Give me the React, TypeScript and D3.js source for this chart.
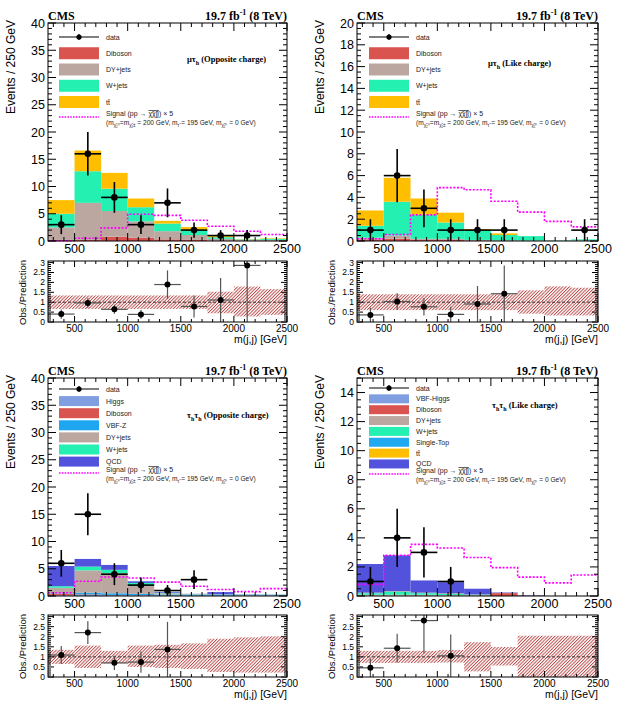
import React from 'react';
import * as d3 from 'd3';

// ---------- data ----------
const EDGES = [250, 500, 750, 1000, 1250, 1500, 1750, 2000, 2250, 2500];

// mu-tau_h opposite charge
const P1_DIBOSON = [0.2, 0.2, 0.8, 0.6, 0.3, 0.2, 0.1, 0.05, 0.05];
const P1_DY = [2.3, 6.8, 4.7, 3.0, 1.5, 0.9, 0.3, 0.15, 0.15];
const P1_WJETS = [2.5, 5.8, 4.1, 2.6, 1.4, 0.95, 0.3, 0.1, 0.2];
const P1_TTBAR = [2.5, 3.8, 2.9, 1.6, 0.5, 0.5, 0.2, 0.05, 0.1];
const P1_SIGNAL = [0.05, 0.5, 2.4, 4.9, 4.7, 3.8, 2.7, 1.8, 1.2];
const P1_DATA = [3, 16, 8, 3, 7, 2, 1, 1, 0];
const P1_BAND_LO = [0.66, 0.66, 0.66, 0.66, 0.66, 0.66, 0.44, 0.28, 0.36];
const P1_BAND_HI = [1.34, 1.34, 1.34, 1.34, 1.34, 1.34, 1.53, 1.79, 1.66];

// mu-tau_h like charge
const P2_DIBOSON = [0.15, 0.2, 0.1, 0.1, 0.05, 0.03, 0.02, 0.01, 0.02];
const P2_DY = [0.15, 0.3, 0.1, 0.1, 0.05, 0.02, 0.02, 0.01, 0.03];
const P2_WJETS = [1.1, 3.1, 2.2, 1.5, 0.9, 0.5, 0.41, 0.03, 0.1];
const P2_TTBAR = [1.4, 2.2, 1.5, 0.9, 0.1, 0.15, 0, 0, 0];
const P2_SIGNAL = [0.2, 0.6, 2.4, 4.9, 4.7, 3.65, 2.65, 1.8, 1.3];
const P2_DATA = [1, 6, 3, 1, 1, 1, 0, 0, 1];
const P2_BAND_LO = [0.6, 0.6, 0.6, 0.6, 0.6, 0.6, 0.42, 0.33, 0.33];
const P2_BAND_HI = [1.4, 1.4, 1.4, 1.4, 1.4, 1.4, 1.6, 1.8, 1.73];

// tau_h tau_h opposite charge
const P3_HIGGS = [0.1, 0.2, 0.15, 0.1, 0.05, 0.05, 0.03, 0.02, 0.02];
const P3_DIBOSON = [0.3, 0.1, 0.05, 0.05, 0.03, 0.02, 0.02, 0.02, 0.02];
const P3_VBFZ = [0.1, 0.3, 0.3, 0.25, 0.2, 0.15, 0.15, 0.1, 0.1];
const P3_DY = [1.0, 4.1, 3.7, 1.55, 0.22, 0.08, 0.05, 0.06, 0.06];
const P3_WJETS = [0.3, 0.7, 0.6, 0.45, 0.1, 0.05, 0.05, 0.05, 0.05];
const P3_QCD = [3.7, 1.4, 0.9, 0.3, 0.13, 0.05, 0.42, 0.05, 0.03];
const P3_SIGNAL = [0.6, 2.7, 3.5, 3.3, 2.55, 1.8, 1.2, 0.8, 1.35];
const P3_DATA = [6, 15, 4, 2, 1, 3, 0, 0, 0];
const P3_BAND_LO = [0.65, 0.45, 0.67, 0.5, 0.45, 0.4, 0.25, 0.22, 0.22];
const P3_BAND_HI = [1.35, 1.56, 1.3, 1.56, 1.6, 1.67, 1.9, 1.97, 2.02];

// tau_h tau_h like charge
const P4_VBFHIGGS = [0.02, 0.02, 0.02, 0.01, 0.01, 0, 0, 0, 0];
const P4_DIBOSON = [0.02, 0.02, 0.02, 0.02, 0.02, 0.2, 0.02, 0, 0];
const P4_DY = [0.05, 0.05, 0.05, 0.03, 0.02, 0.02, 0, 0, 0];
const P4_WJETS = [0.1, 0.2, 0.1, 0.08, 0.04, 0, 0, 0, 0];
const P4_SINGLETOP = [0.02, 0.02, 0.02, 0.02, 0.01, 0, 0, 0, 0];
const P4_TTBAR = [0.02, 0.02, 0.02, 0.02, 0.01, 0, 0, 0, 0];
const P4_QCD = [1.97, 2.47, 0.84, 0.77, 0.39, 0.03, 0.03, 0, 0];
const P4_SIGNAL = [0.8, 2.8, 3.55, 3.3, 2.65, 1.95, 1.3, 0.9, 1.45];
const P4_DATA = [1, 4, 3, 1, 0, 0, 0, 0, 0];
const P4_BAND_LO = [0.7, 0.7, 0.7, 0.72, 0.28, 0.57, 0, 0, 0];
const P4_BAND_HI = [1.3, 1.3, 1.3, 1.34, 1.73, 1.49, 2.05, 2.05, 2.05];

const X_TICKS = [500, 1000, 1500, 2000, 2500];
const RATIO_TICKS = [0, 0.5, 1, 1.5, 2, 2.5, 3];

// ---------- style ----------
const COL = {
  higgs: '#7f9fe0',
  diboson: '#d9534f',
  vbfz: '#1ea6f0',
  dy: '#bba6a0',
  wjets: '#24f0b2',
  singletop: '#22aaf0',
  ttbar: '#ffbf00',
  qcd: '#5252dc',
  signal: '#ff00ff',
  hatch: '#b5403f',
};
const SANS = "'Liberation Sans', Arial, Helvetica, sans-serif";
const SERIF = "'Liberation Serif', 'Times New Roman', serif";

type Bkg = { name: string; label: string; color: string; values: number[] };
type PanelCfg = {
  l: number; r: number; t: number; b: number; rt: number; rb: number;
  ymax: number; yMajor: number; yMinor: number;
  bkg: Bkg[]; signal: number[]; data: number[]; bandLo: number[]; bandHi: number[];
  chan: 'mu' | 'tau'; charge: string; chanX: number; chanY: number;
  legX: number; legY0: number; legDy: number; boxH: number; sigY: number;
};

const PANELS: PanelCfg[] = [
  {
    l: 48, r: 287, t: 23, b: 241, rt: 261, rb: 322, ymax: 40, yMajor: 5, yMinor: 1,
    bkg: [
      { name: 'diboson', label: 'Diboson', color: COL.diboson, values: P1_DIBOSON },
      { name: 'dy', label: 'DY+jets', color: COL.dy, values: P1_DY },
      { name: 'wjets', label: 'W+jets', color: COL.wjets, values: P1_WJETS },
      { name: 'ttbar', label: 'tt\u0304', color: COL.ttbar, values: P1_TTBAR },
    ],
    signal: P1_SIGNAL, data: P1_DATA, bandLo: P1_BAND_LO, bandHi: P1_BAND_HI,
    chan: 'mu', charge: '(Opposite charge)', chanX: 187, chanY: 62,
    legX: 59, legY0: 37, legDy: 16.25, boxH: 12, sigY: 116,
  },
  {
    l: 357, r: 598, t: 23, b: 241, rt: 261, rb: 322, ymax: 20, yMajor: 2, yMinor: 0.5,
    bkg: [
      { name: 'diboson', label: 'Diboson', color: COL.diboson, values: P2_DIBOSON },
      { name: 'dy', label: 'DY+jets', color: COL.dy, values: P2_DY },
      { name: 'wjets', label: 'W+jets', color: COL.wjets, values: P2_WJETS },
      { name: 'ttbar', label: 'tt\u0304', color: COL.ttbar, values: P2_TTBAR },
    ],
    signal: P2_SIGNAL, data: P2_DATA, bandLo: P2_BAND_LO, bandHi: P2_BAND_HI,
    chan: 'mu', charge: '(Like charge)', chanX: 488, chanY: 66,
    legX: 369, legY0: 37, legDy: 16.25, boxH: 12, sigY: 116,
  },
  {
    l: 48, r: 287, t: 378, b: 596, rt: 615, rb: 677, ymax: 40, yMajor: 5, yMinor: 1,
    bkg: [
      { name: 'higgs', label: 'Higgs', color: COL.higgs, values: P3_HIGGS },
      { name: 'diboson', label: 'Diboson', color: COL.diboson, values: P3_DIBOSON },
      { name: 'vbfz', label: 'VBF-Z', color: COL.vbfz, values: P3_VBFZ },
      { name: 'dy', label: 'DY+jets', color: COL.dy, values: P3_DY },
      { name: 'wjets', label: 'W+jets', color: COL.wjets, values: P3_WJETS },
      { name: 'qcd', label: 'QCD', color: COL.qcd, values: P3_QCD },
    ],
    signal: P3_SIGNAL, data: P3_DATA, bandLo: P3_BAND_LO, bandHi: P3_BAND_HI,
    chan: 'tau', charge: '(Opposite charge)', chanX: 187, chanY: 418,
    legX: 59, legY0: 389, legDy: 12.1, boxH: 10, sigY: 472,
  },
  {
    l: 357, r: 598, t: 378, b: 596, rt: 615, rb: 677, ymax: 15, yMajor: 2, yMinor: 0.5,
    bkg: [
      { name: 'vbfh', label: 'VBF-Higgs', color: COL.higgs, values: P4_VBFHIGGS },
      { name: 'diboson', label: 'Diboson', color: COL.diboson, values: P4_DIBOSON },
      { name: 'dy', label: 'DY+jets', color: COL.dy, values: P4_DY },
      { name: 'wjets', label: 'W+jets', color: COL.wjets, values: P4_WJETS },
      { name: 'singletop', label: 'Single-Top', color: COL.singletop, values: P4_SINGLETOP },
      { name: 'ttbar', label: 'tt\u0304', color: COL.ttbar, values: P4_TTBAR },
      { name: 'qcd', label: 'QCD', color: COL.qcd, values: P4_QCD },
    ],
    signal: P4_SIGNAL, data: P4_DATA, bandLo: P4_BAND_LO, bandHi: P4_BAND_HI,
    chan: 'tau', charge: '(Like charge)', chanX: 492, chanY: 408,
    legX: 369, legY0: 388, legDy: 10.85, boxH: 9, sigY: 473,
  },
];

function range(a: number, b: number, step: number) {
  const out: number[] = [];
  for (let v = a; v <= b + 1e-9; v += step) out.push(Math.round(v * 1000) / 1000);
  return out;
}

function Panel({ p, idx }: { p: PanelCfg; idx: number }) {
  const nb = EDGES.length - 1;
  const x = d3.scaleLinear().domain([EDGES[0], EDGES[nb]]).range([p.l, p.r]);
  const y = d3.scaleLinear().domain([0, p.ymax]).range([p.b, p.t]);
  const yr = d3.scaleLinear().domain([0, 3.08]).range([p.rb, p.rt]);

  const rows = d3.range(nb).map((i) => {
    const o: Record<string, number> = {};
    p.bkg.forEach((s) => (o[s.name] = s.values[i]));
    return o;
  });
  const stack = d3.stack<Record<string, number>>().keys(p.bkg.map((s) => s.name))(rows);
  const total = d3.range(nb).map((i) => d3.sum(p.bkg, (s) => s.values[i]));

  const sigPts: [number, number][] = EDGES.map((e, i) => [e, p.signal[Math.min(i, nb - 1)]]);
  const sigLine = d3.line<[number, number]>().x((d) => x(d[0])).y((d) => y(d[1])).curve(d3.curveStepAfter);

  const yMaj = range(0, p.ymax, p.yMajor);
  const yMin = range(0, p.ymax, p.yMinor).filter((v) => !yMaj.some((m) => Math.abs(m - v) < 1e-6));
  const xMin = range(300, 2500, 100).filter((v) => v % 500 !== 0);
  const rMin = range(0, 3.05, 0.1).filter((v) => !RATIO_TICKS.some((m) => Math.abs(m - v) < 1e-6));

  const clipId = `rclip${idx}`;
  const binC = (i: number) => (EDGES[i] + EDGES[i + 1]) / 2;

  const chanText =
    p.chan === 'mu' ? (
      <>
        {'μτ'}
        <tspan dy={2.5} fontSize={6}>h</tspan>
        <tspan dy={-2.5}>{' ' + p.charge}</tspan>
      </>
    ) : (
      <>
        {'τ'}
        <tspan dy={2.5} fontSize={6}>h</tspan>
        <tspan dy={-2.5}>τ</tspan>
        <tspan dy={2.5} fontSize={6}>h</tspan>
        <tspan dy={-2.5}>{' ' + p.charge}</tspan>
      </>
    );

  const lx = p.legX;
  const tx = lx + 47;

  return (
    <g>
      <defs>
        <clipPath id={clipId}>
          <rect x={p.l} y={p.rt} width={p.r - p.l} height={p.rb - p.rt} />
        </clipPath>
      </defs>

      {/* ---------- main plot ---------- */}
      {stack.map((layer, k) => (
        <g key={k}>
          {layer.map((d, i) =>
            d[1] - d[0] > 0 ? (
              <rect key={i} x={x(EDGES[i])} y={y(d[1])} width={x(EDGES[i + 1]) - x(EDGES[i])}
                height={y(d[0]) - y(d[1])} fill={p.bkg[k].color} />
            ) : null
          )}
        </g>
      ))}
      <path d={sigLine(sigPts) || ''} fill="none" stroke={COL.signal} strokeWidth={1.6} strokeDasharray="2,1.6" />
      {p.data.map((v, i) =>
        v > 0 ? (
          <g key={i} stroke="#000" strokeWidth={1.6}>
            <line x1={x(EDGES[i])} x2={x(EDGES[i + 1])} y1={y(v)} y2={y(v)} />
            <line x1={x(binC(i))} x2={x(binC(i))} y1={y(v - Math.sqrt(v))} y2={y(v + Math.sqrt(v))} />
            <circle cx={x(binC(i))} cy={y(v)} r={3.3} fill="#000" stroke="none" />
          </g>
        ) : null
      )}

      {/* frame & ticks */}
      <rect x={p.l} y={p.t} width={p.r - p.l} height={p.b - p.t} fill="none" stroke="#000" strokeWidth={1} />
      <g stroke="#000" strokeWidth={1}>
        {yMaj.map((v) => (
          <g key={'ym' + v}>
            <line x1={p.l} x2={p.l + 8} y1={y(v)} y2={y(v)} />
            <line x1={p.r} x2={p.r - 8} y1={y(v)} y2={y(v)} />
          </g>
        ))}
        {yMin.map((v) => (
          <g key={'yn' + v}>
            <line x1={p.l} x2={p.l + 4} y1={y(v)} y2={y(v)} />
            <line x1={p.r} x2={p.r - 4} y1={y(v)} y2={y(v)} />
          </g>
        ))}
        {X_TICKS.map((v) => (
          <g key={'xm' + v}>
            <line x1={x(v)} x2={x(v)} y1={p.b} y2={p.b - 8} />
            <line x1={x(v)} x2={x(v)} y1={p.t} y2={p.t + 8} />
          </g>
        ))}
        {xMin.map((v) => (
          <g key={'xn' + v}>
            <line x1={x(v)} x2={x(v)} y1={p.b} y2={p.b - 4} />
            <line x1={x(v)} x2={x(v)} y1={p.t} y2={p.t + 4} />
          </g>
        ))}
      </g>
      <g fontFamily={SANS} fontSize={12.5} fill="#000">
        {yMaj.map((v) => (
          <text key={v} x={p.l - 3} y={y(v) + 4.5} textAnchor="end">{v}</text>
        ))}
        {X_TICKS.map((v) => (
          <text key={v} x={x(v)} y={p.b + 11.5} textAnchor="middle">{v}</text>
        ))}
      </g>
      <text transform={`translate(${p.l - 33},${p.t - 3}) rotate(-90)`} textAnchor="end"
        fontFamily={SANS} fontSize={12} fill="#000">Events / 250 GeV</text>

      {/* header */}
      <text x={p.l} y={p.t - 3} fontFamily={SERIF} fontWeight="bold" fontSize={12}>CMS</text>
      <text x={p.r} y={p.t - 3} fontFamily={SERIF} fontWeight="bold" fontSize={12} textAnchor="end">
        19.7 fb<tspan dy={-5} fontSize={8}>-1</tspan><tspan dy={5}> (8 TeV)</tspan>
      </text>
      <text x={p.chanX} y={p.chanY} fontFamily={SERIF} fontWeight="bold" fontSize={8.5}>{chanText}</text>

      {/* legend */}
      <g fontFamily={SANS} fontSize={7} fill="#222">
        <g stroke="#000" strokeWidth={1.2}>
          <line x1={lx} x2={lx + 40} y1={p.legY0} y2={p.legY0} />
          <line x1={lx + 20} x2={lx + 20} y1={p.legY0 - 3} y2={p.legY0 + 3} />
          <circle cx={lx + 20} cy={p.legY0} r={2.6} fill="#000" stroke="none" />
        </g>
        <text x={tx} y={p.legY0 + 2.5}>data</text>
        {p.bkg.map((s, k) => {
          const cy = p.legY0 + p.legDy * (k + 1);
          return (
            <g key={s.name}>
              <rect x={lx} y={cy - p.boxH / 2} width={40} height={p.boxH} fill={s.color} />
              <text x={tx} y={cy + 2.5}>{s.label}</text>
            </g>
          );
        })}
        <line x1={lx} x2={lx + 40} y1={p.sigY + 1} y2={p.sigY + 1} stroke={COL.signal} strokeWidth={1.3} strokeDasharray="1.6,1.2" />
        <text x={tx} y={p.sigY}>
          Signal (pp → <tspan style={{ textDecoration: 'overline' }}>χ̃χ̃jj</tspan>) × 5
        </text>
        <text x={tx} y={p.sigY + 9} fontSize={6.6}>
          (m<tspan dy={2} fontSize={4.5}>χ̃₂⁰</tspan>
          <tspan dy={-2}>=m</tspan><tspan dy={2} fontSize={4.5}>χ̃₁±</tspan>
          <tspan dy={-2}> = 200 GeV, m</tspan><tspan dy={2} fontSize={4.5}>τ̃</tspan>
          <tspan dy={-2}> = 195 GeV, m</tspan><tspan dy={2} fontSize={4.5}>χ̃₁⁰</tspan>
          <tspan dy={-2}> = 0 GeV)</tspan>
        </text>
      </g>

      {/* ---------- ratio plot ---------- */}
      <g clipPath={`url(#${clipId})`}>
        {p.bandLo.map((lo, i) => (
          <rect key={i} x={x(EDGES[i])} y={yr(p.bandHi[i])} width={x(EDGES[i + 1]) - x(EDGES[i])}
            height={yr(lo) - yr(p.bandHi[i])} fill="url(#hatch)" />
        ))}
        <line x1={p.l} x2={p.r} y1={yr(1)} y2={yr(1)} stroke="#333" strokeWidth={1} strokeDasharray="3,2" />
        {p.data.map((v, i) => {
          if (v <= 0) return null;
          const r = v / total[i];
          const e = Math.sqrt(v) / total[i];
          if (r > 3.08) return null;
          return (
            <g key={i} stroke="#555" strokeWidth={1.2}>
              <line x1={x(EDGES[i])} x2={x(EDGES[i + 1])} y1={yr(r)} y2={yr(r)} />
              <line x1={x(binC(i))} x2={x(binC(i))} y1={yr(Math.max(0, r - e))} y2={yr(r + e)} />
              <circle cx={x(binC(i))} cy={yr(r)} r={3} fill="#000" stroke="none" />
            </g>
          );
        })}
      </g>
      <rect x={p.l} y={p.rt} width={p.r - p.l} height={p.rb - p.rt} fill="none" stroke="#000" strokeWidth={1} />
      <g stroke="#000" strokeWidth={1}>
        {RATIO_TICKS.map((v) => (
          <g key={'rm' + v}>
            <line x1={p.l} x2={p.l + 6} y1={yr(v)} y2={yr(v)} />
            <line x1={p.r} x2={p.r - 6} y1={yr(v)} y2={yr(v)} />
          </g>
        ))}
        {rMin.map((v) => (
          <g key={'rn' + v}>
            <line x1={p.l} x2={p.l + 3} y1={yr(v)} y2={yr(v)} />
            <line x1={p.r} x2={p.r - 3} y1={yr(v)} y2={yr(v)} />
          </g>
        ))}
        {X_TICKS.map((v) => (
          <g key={'rxm' + v}>
            <line x1={x(v)} x2={x(v)} y1={p.rb} y2={p.rb - 6} />
            <line x1={x(v)} x2={x(v)} y1={p.rt} y2={p.rt + 6} />
          </g>
        ))}
        {xMin.map((v) => (
          <g key={'rxn' + v}>
            <line x1={x(v)} x2={x(v)} y1={p.rb} y2={p.rb - 3} />
            <line x1={x(v)} x2={x(v)} y1={p.rt} y2={p.rt + 3} />
          </g>
        ))}
      </g>
      <g fontFamily={SANS} fill="#000">
        {RATIO_TICKS.map((v) => (
          <text key={v} x={p.l - 3} y={yr(v) + 3} textAnchor="end" fontSize={8.5}>{v}</text>
        ))}
        {X_TICKS.map((v) => (
          <text key={v} x={x(v)} y={p.rb + 9.5} textAnchor="middle" fontSize={10}>{v}</text>
        ))}
        <text x={p.r} y={p.rb + 21} textAnchor="end" fontSize={10.5}>m(j,j) [GeV]</text>
        <text transform={`translate(${p.l - 22},${p.rt - 1}) rotate(-90)`} textAnchor="end" fontSize={9.5}>
          Obs./Prediction
        </text>
      </g>
    </g>
  );
}

export default function App() {
  return (
    <svg width={624} height={705} style={{ position: 'absolute', left: 0, top: 0, background: '#fff' }}>
      <defs>
        <pattern id="hatch" patternUnits="userSpaceOnUse" width={2.3} height={2.3} patternTransform="rotate(45)">
          <line x1={0.5} y1={0} x2={0.5} y2={2.3} stroke={COL.hatch} strokeWidth={0.9} />
        </pattern>
      </defs>
      <rect x={0} y={0} width={624} height={705} fill="#fff" />
      {PANELS.map((p, i) => (
        <Panel key={i} p={p} idx={i} />
      ))}
    </svg>
  );
}
